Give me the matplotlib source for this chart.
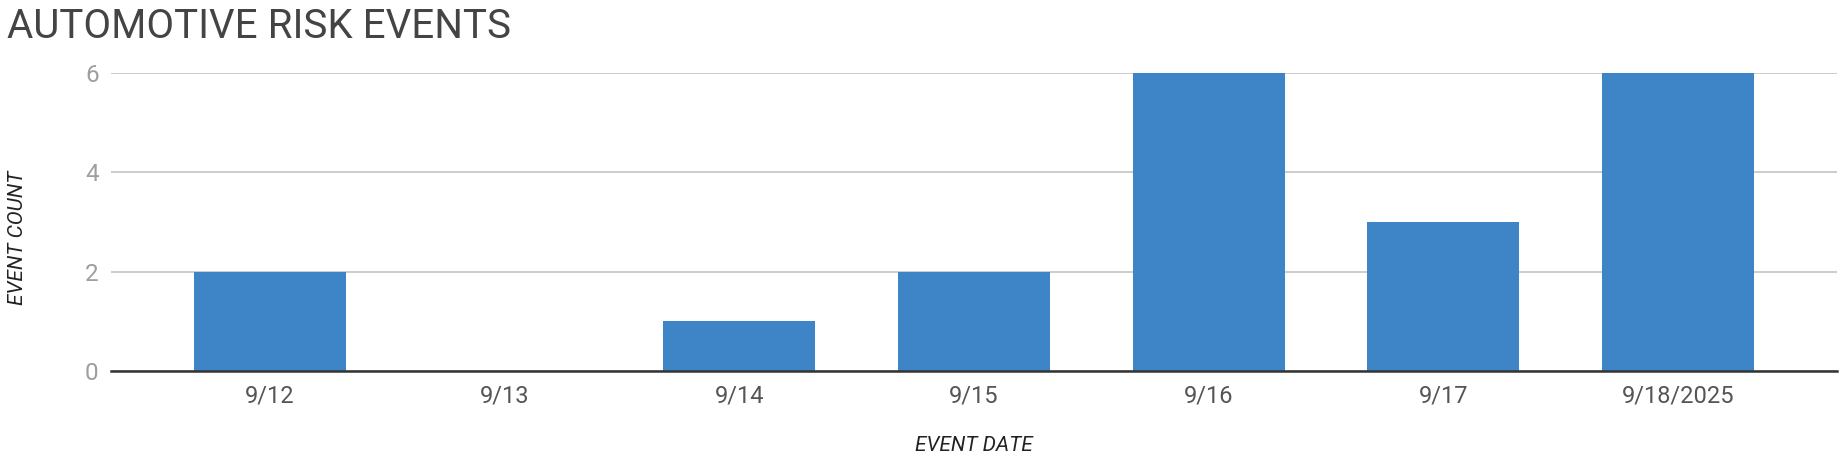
import matplotlib.pyplot as plt

dates = ['9/12', '9/13', '9/14', '9/15', '9/16', '9/17', '9/18/2025']
counts = [2, 0, 1, 2, 6, 3, 6]
y_ticks = [0, 2, 4, 6]

bar_color = '#3d85c6'

plt.rcParams['font.family'] = ['Roboto', 'DejaVu Sans']

fig = plt.figure(figsize=(18.42, 4.66), dpi=100)
ax = fig.add_axes([0.0603, 0.2039, 0.937, 0.6394])

x = range(len(dates))
ax.bar(x, counts, width=0.648, color=bar_color, zorder=3)

ax.set_xlim(-0.677, len(dates) - 1 + 0.677)
ax.set_ylim(0, 6)
ax.set_yticks(y_ticks)
ax.set_xticks(list(x))
ax.set_xticklabels(dates)

ax.grid(True, axis='y', color='#cccccc', linewidth=1.4, zorder=0)
ax.set_axisbelow(True)
for s in ['top', 'right', 'left']:
    ax.spines[s].set_visible(False)
ax.spines['bottom'].set_color('#333333')
ax.spines['bottom'].set_linewidth(1.8)
ax.spines['bottom'].set_zorder(4)

ax.tick_params(axis='y', length=0, pad=9, labelsize=17.5, labelcolor='#9e9e9e')
ax.tick_params(axis='x', length=0, pad=10, labelsize=17, labelcolor='#555555')

fig.text(0.004, 0.985, 'AUTOMOTIVE RISK EVENTS', fontsize=29, color='#444444',
         ha='left', va='top')
fig.text(0.5285, 0.043, 'EVENT DATE', fontsize=15, style='italic',
         color='#222222', ha='center', va='center')
fig.text(0.0095, 0.49, 'EVENT COUNT', fontsize=15, style='italic', rotation=90,
         color='#222222', ha='center', va='center')

fig.savefig('out.png', dpi=100)
